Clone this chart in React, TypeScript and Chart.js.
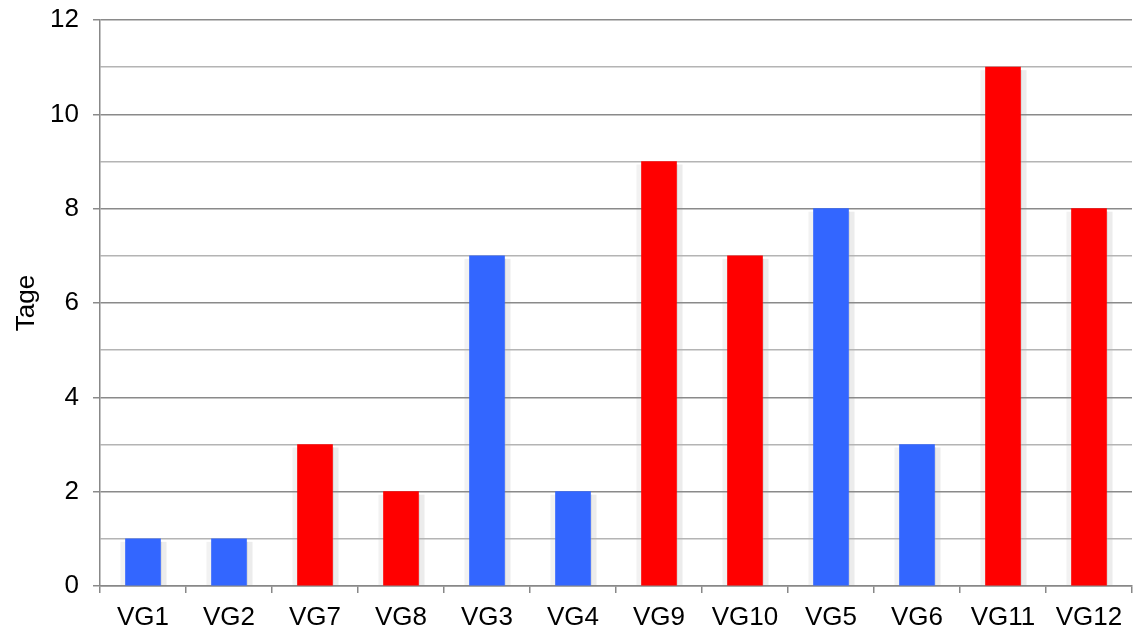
import React, { useEffect, useRef } from "react";
import { Chart, registerables } from "chart.js";

Chart.register(...registerables);

const categories = ["VG1", "VG2", "VG7", "VG8", "VG3", "VG4", "VG9", "VG10", "VG5", "VG6", "VG11", "VG12"];
const days = [1, 1, 3, 2, 7, 2, 9, 7, 8, 3, 11, 8];
const barColors = ["#3366ff", "#3366ff", "#ff0000", "#ff0000", "#3366ff", "#3366ff", "#ff0000", "#ff0000", "#3366ff", "#3366ff", "#ff0000", "#ff0000"];
const yAxisTitle = "Tage";

const FONT = "'Liberation Sans', Arial, sans-serif";

// Soft drop shadow behind each bar, painted under the grid lines
const barShadow = {
  id: "barShadow",
  beforeDraw(chart: any) {
    const { ctx, chartArea } = chart;
    const meta = chart.getDatasetMeta(0);
    ctx.save();
    ctx.beginPath();
    ctx.rect(chartArea.left, chartArea.top, chartArea.right - chartArea.left, chartArea.bottom - chartArea.top);
    ctx.clip();
    meta.data.forEach((bar: any) => {
      const p = bar.getProps(["x", "y", "base", "width"], true);
      const l = p.x - p.width / 2;
      const r = p.x + p.width / 2;
      const top = p.y + 3;
      ctx.fillStyle = "#f2f2f2";
      ctx.fillRect(l - 5, top, 5, p.base - top);
      ctx.fillStyle = "#ececec";
      ctx.fillRect(r, top, 6, p.base - top);
      ctx.fillStyle = "#dcdcdc";
      ctx.fillRect(r, top, 1.5, p.base - top);
    });
    ctx.restore();
  },
};

export default function App() {
  const canvasRef = useRef<HTMLCanvasElement>(null);

  useEffect(() => {
    const chart = new Chart(canvasRef.current!, {
      type: "bar",
      data: {
        labels: categories,
        datasets: [
          {
            data: days,
            backgroundColor: barColors,
            borderWidth: 0,
            barThickness: 35,
          },
        ],
      },
      plugins: [barShadow],
      options: {
        animation: false,
        responsive: false,
        layout: { padding: { top: 0, right: 1, bottom: 0, left: 0 } },
        plugins: { legend: { display: false }, tooltip: { enabled: false } },
        scales: {
          x: {
            offset: true,
            grid: {
              offset: true,
              drawOnChartArea: false,
              tickLength: 7,
              color: "#888888",
              lineWidth: 1.5,
            },
            border: { color: "#888888", width: 1.5 },
            ticks: {
              color: "#000000",
              font: { family: FONT, size: 26 },
              padding: 9,
              maxRotation: 0,
              autoSkip: false,
            },
            afterFit: (scale: any) => {
              scale.height = 44;
            },
          },
          y: {
            min: 0,
            max: 12,
            ticks: {
              stepSize: 1,
              color: "#000000",
              font: { family: FONT, size: 26, lineHeight: 1 },
              padding: 14,
              callback: (v: any) => (Number(v) % 2 === 0 ? String(v) : ""),
            },
            grid: {
              color: (c: any) => (c.tick && c.tick.value % 2 === 0 ? "#8a8a8a" : "#b4b4b4"),
              tickColor: (c: any) => (c.tick && c.tick.value % 2 === 0 ? "#8a8a8a" : "rgba(0,0,0,0)"),
              lineWidth: 1.5,
              tickLength: 7,
            },
            border: { color: "#888888", width: 1.5 },
            title: {
              display: true,
              text: yAxisTitle,
              color: "#000000",
              font: { family: FONT, size: 26 },
              padding: { top: 11, bottom: 0 },
            },
            afterFit: (scale: any) => {
              scale.width = 100;
            },
          },
        },
      },
    });
    return () => chart.destroy();
  }, []);

  return (
    <div style={{ position: "fixed", left: 0, top: 0, width: 1133, height: 630, background: "#ffffff", overflow: "hidden" }}>
      <canvas ref={canvasRef} width={1133} height={637} style={{ position: "absolute", left: 0, top: -7 }} />
    </div>
  );
}
